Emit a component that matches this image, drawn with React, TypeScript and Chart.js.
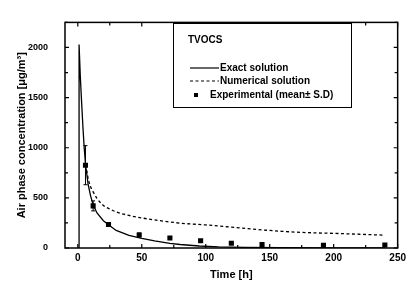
import React, { useEffect, useRef } from 'react';
import { Chart, registerables } from 'chart.js';

Chart.register(...registerables);

// ---- data ----
const legendTitle = 'TVOCS';
const xAxisTitle = 'Time [h]';
const yAxisTitle = 'Air phase concentration [μg/m³]';

const xTickValues = [0, 50, 100, 150, 200, 250];
const yTickValues = [0, 500, 1000, 1500, 2000];
const xMinorTickValues = [0, 25, 50, 75, 100, 125, 150, 175, 200, 225, 250];
const yMinorTickValues = [0, 250, 500, 750, 1000, 1250, 1500, 1750, 2000, 2250];

const exactLabel = 'Exact solution';
const exactTime = [1, 1, 2, 3, 4, 5, 6, 8, 10, 12, 15, 20, 24, 30, 40, 50, 60, 72, 80, 95, 110, 130, 160, 200, 240];
const exactConc = [0, 2030, 1700, 1450, 1210, 1000, 840, 640, 520, 430, 350, 272, 232, 175, 125, 95, 70, 47, 35, 20, 12, 7, 4, 2, 1];

const numericalLabel = 'Numerical solution';
const numericalTime = [6, 7, 8, 10, 12, 15, 20, 25, 30, 40, 50, 60, 80, 100, 120, 140, 160, 180, 200, 220, 240];
const numericalConc = [830, 770, 700, 610, 560, 495, 425, 390, 360, 325, 300, 280, 248, 230, 208, 185, 166, 153, 146, 137, 128];

const experimentalLabel = 'Experimental (mean± S.D)';
const expTime = [6, 12, 24, 48, 72, 96, 120, 144, 192, 240];
const expMean = [826, 420, 234, 130, 100, 72, 47, 35, 26, 30];
const expSD = [195, 50, 18, 20, 10, 10, 8, 5, 5, 5];

const FONT = "'Liberation Sans', Arial, sans-serif";

const framePlugin = {
  id: 'frameTicksLegend',
  afterDatasetsDraw(chart: any) {
    const { ctx, chartArea: a, scales } = chart;
    const xs = scales.x;
    const ys = scales.y;
    ctx.save();
    // error bars
    ctx.strokeStyle = '#000';
    ctx.lineWidth = 1;
    expTime.forEach((t, i) => {
      const px = xs.getPixelForValue(t);
      const y1 = ys.getPixelForValue(expMean[i] - expSD[i]);
      const y2 = ys.getPixelForValue(expMean[i] + expSD[i]);
      ctx.beginPath();
      ctx.moveTo(px, y1);
      ctx.lineTo(px, y2);
      ctx.moveTo(px - 2, y1);
      ctx.lineTo(px + 2, y1);
      ctx.moveTo(px - 2, y2);
      ctx.lineTo(px + 2, y2);
      ctx.stroke();
    });
    // frame
    ctx.lineWidth = 1.5;
    ctx.strokeRect(a.left, a.top, a.right - a.left, a.bottom - a.top);
    // inward ticks
    ctx.lineWidth = 1.2;
    ctx.beginPath();
    xMinorTickValues.forEach((v) => {
      const px = xs.getPixelForValue(v);
      const len = v % 50 === 0 ? 4 : 3;
      ctx.moveTo(px, a.bottom);
      ctx.lineTo(px, a.bottom - len);
      ctx.moveTo(px, a.top);
      ctx.lineTo(px, a.top + len);
    });
    yMinorTickValues.forEach((v) => {
      const py = ys.getPixelForValue(v);
      const len = v % 500 === 0 ? 4 : 3;
      ctx.moveTo(a.left, py);
      ctx.lineTo(a.left + len, py);
      ctx.moveTo(a.right, py);
      ctx.lineTo(a.right - len, py);
    });
    ctx.stroke();
    // legend box
    const bx = 173.5, by = 23.5, bw = 178, bh = 84;
    ctx.fillStyle = '#fff';
    ctx.fillRect(bx, by, bw, bh);
    ctx.lineWidth = 1;
    ctx.strokeStyle = '#000';
    ctx.strokeRect(bx, by, bw, bh);
    ctx.fillStyle = '#000';
    ctx.textBaseline = 'middle';
    ctx.textAlign = 'left';
    ctx.font = `bold 10px ${FONT}`;
    ctx.fillText(legendTitle, 188, 40);
    const ds = chart.data.datasets;
    // exact
    ctx.lineWidth = 1.2;
    ctx.setLineDash([]);
    ctx.beginPath();
    ctx.moveTo(190, 68);
    ctx.lineTo(219, 68);
    ctx.stroke();
    ctx.fillText(ds[0].label, 220, 68);
    // numerical
    ctx.setLineDash([3, 2.5]);
    ctx.beginPath();
    ctx.moveTo(190, 81);
    ctx.lineTo(219, 81);
    ctx.stroke();
    ctx.setLineDash([]);
    ctx.fillText(ds[1].label, 220, 81);
    // experimental
    ctx.fillRect(194, 93, 4, 4);
    ctx.fillText(ds[2].label, 210, 95);
    ctx.restore();
  },
};

export default function App() {
  const ref = useRef<HTMLCanvasElement | null>(null);
  useEffect(() => {
    if (!ref.current) return;
    const chart = new Chart(ref.current, {
      type: 'scatter',
      data: {
        datasets: [
          {
            label: exactLabel,
            data: exactTime.map((t, i) => ({ x: t, y: exactConc[i] })),
            showLine: true,
            borderColor: '#000',
            borderWidth: 1.3,
            pointRadius: 0,
            tension: 0,
          },
          {
            label: numericalLabel,
            data: numericalTime.map((t, i) => ({ x: t, y: numericalConc[i] })),
            showLine: true,
            borderColor: '#000',
            borderWidth: 1.3,
            borderDash: [3, 2.5],
            pointRadius: 0,
            cubicInterpolationMode: 'monotone',
          },
          {
            label: experimentalLabel,
            data: expTime.map((t, i) => ({ x: t, y: expMean[i] })),
            showLine: false,
            pointStyle: 'rect',
            pointRadius: 3.6,
            backgroundColor: '#000',
            borderColor: '#000',
            borderWidth: 0,
          },
        ],
      },
      options: {
        animation: false,
        responsive: false,
        layout: { padding: { top: 8, right: 12, left: 0, bottom: 0 } },
        plugins: { legend: { display: false }, tooltip: { enabled: false } },
        scales: {
          x: {
            type: 'linear',
            min: -10,
            max: 250,
            afterBuildTicks: (s: any) => {
              s.ticks = xTickValues.map((v) => ({ value: v }));
            },
            afterFit: (s: any) => {
              s.height = 38;
            },
            grid: { display: false, drawTicks: false },
            border: { display: false },
            ticks: {
              padding: 4,
              color: '#000',
              font: { family: FONT, size: 10, weight: 'bold' },
              maxRotation: 0,
              callback: (v: any) => String(v),
            },
            title: {
              display: true,
              text: xAxisTitle,
              color: '#000',
              font: { family: FONT, size: 11, weight: 'bold' },
              padding: { top: 0, bottom: 4 },
            },
          },
          y: {
            type: 'linear',
            min: 0,
            max: 2250,
            afterBuildTicks: (s: any) => {
              s.ticks = yTickValues.map((v) => ({ value: v }));
            },
            afterFit: (s: any) => {
              s.width = 65;
            },
            grid: { display: false, drawTicks: false },
            border: { display: false },
            ticks: {
              padding: 17,
              color: '#000',
              font: { family: FONT, size: 9, weight: 'bold' },
              callback: (v: any) => String(v),
            },
            title: {
              display: true,
              text: yAxisTitle,
              color: '#000',
              font: { family: FONT, size: 11, weight: 'bold' },
              padding: { top: 15, bottom: 0 },
            },
          },
        },
      } as any,
      plugins: [framePlugin],
    });
    return () => chart.destroy();
  }, []);
  return (
    <div style={{ position: 'absolute', left: 0, top: 0, width: 410, height: 286, background: '#fff' }}>
      <canvas ref={ref} width={410} height={286} />
    </div>
  );
}
